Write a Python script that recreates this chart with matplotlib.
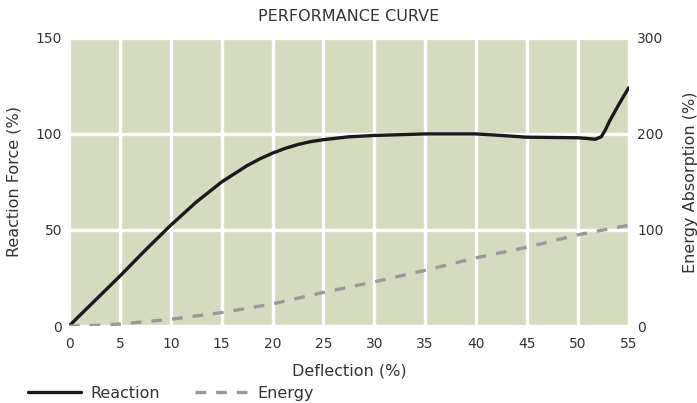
import matplotlib
matplotlib.use("Agg")
import matplotlib.pyplot as plt

# Data
react_x = [0, 2.5, 5, 7.5, 10, 12.5, 15, 17.5, 18.75, 20, 21.25, 22.5, 23.75, 25, 27.5, 30, 35, 40, 42.5, 45, 50, 51, 51.7, 52.3, 52.7, 53.1, 54.1, 55]
react_y = [0, 13, 26, 39.5, 52.5, 64.5, 75, 83.5, 87, 90, 92.5, 94.5, 96, 97, 98.5, 99.2, 100, 100, 99.2, 98.3, 98, 97.6, 97.2, 98.5, 102, 106.5, 116, 124]
energy_x = [0, 2.5, 5, 10, 15, 20, 25, 30, 35, 40, 45, 50, 55]
energy_y = [0, 0.5, 2, 7, 14, 23, 35, 46, 58, 71, 82, 95, 105]
x_ticks = list(range(0, 56, 5))
left_ticks = [0, 50, 100, 150]
right_ticks = [0, 100, 200, 300]

txt = "#333333"
plt.rcParams['font.family'] = ['DejaVu Sans']

fig = plt.figure(figsize=(6.97, 4.03), dpi=100)
ax = fig.add_axes([0.099, 0.191, 0.803, 0.715])
ax.set_facecolor("#d5dbbf")
ax.set_xlim(0, 55)
ax.set_ylim(0, 150)
ax.set_xticks(x_ticks)
ax.set_yticks(left_ticks)
ax.grid(True, color="white", linewidth=2.4)
ax.set_axisbelow(True)
for s in ax.spines.values():
    s.set_visible(False)
ax.tick_params(axis='y', length=0, labelsize=10, colors=txt, pad=5)
ax.tick_params(axis='x', length=0, labelsize=10, colors=txt, pad=8)

ax2 = ax.twinx()
ax2.set_ylim(0, 300)
ax2.set_yticks(right_ticks)
for s in ax2.spines.values():
    s.set_visible(False)
ax2.tick_params(length=0, labelsize=10, colors=txt, pad=6)

l1, = ax.plot(react_x, react_y, color="#1a1a1a", lw=2.4, solid_capstyle='round',
              solid_joinstyle='round', label="Reaction", zorder=5)
l2, = ax2.plot(energy_x, energy_y, color="#999999", lw=2.4, dashes=(3.2, 3.0), label="Energy", zorder=4)

ax.set_xlabel("Deflection (%)", fontsize=11.5, color=txt, labelpad=9)
ax.set_ylabel("Reaction Force (%)", fontsize=11.5, color=txt, labelpad=10)
ax2.set_ylabel("Energy Absorption (%)", fontsize=11.5, color=txt, labelpad=14)
ax.set_title("PERFORMANCE CURVE", fontsize=11.5, color=txt, pad=12)

fig.legend([l1, l2], ["Reaction", "Energy"], loc="lower left", bbox_to_anchor=(0.02, -0.03),
           ncol=2, frameon=False, fontsize=11.5, handlelength=3.3, handletextpad=0.6,
           columnspacing=2.2, labelcolor=txt)

fig.savefig("out.png", dpi=100)
